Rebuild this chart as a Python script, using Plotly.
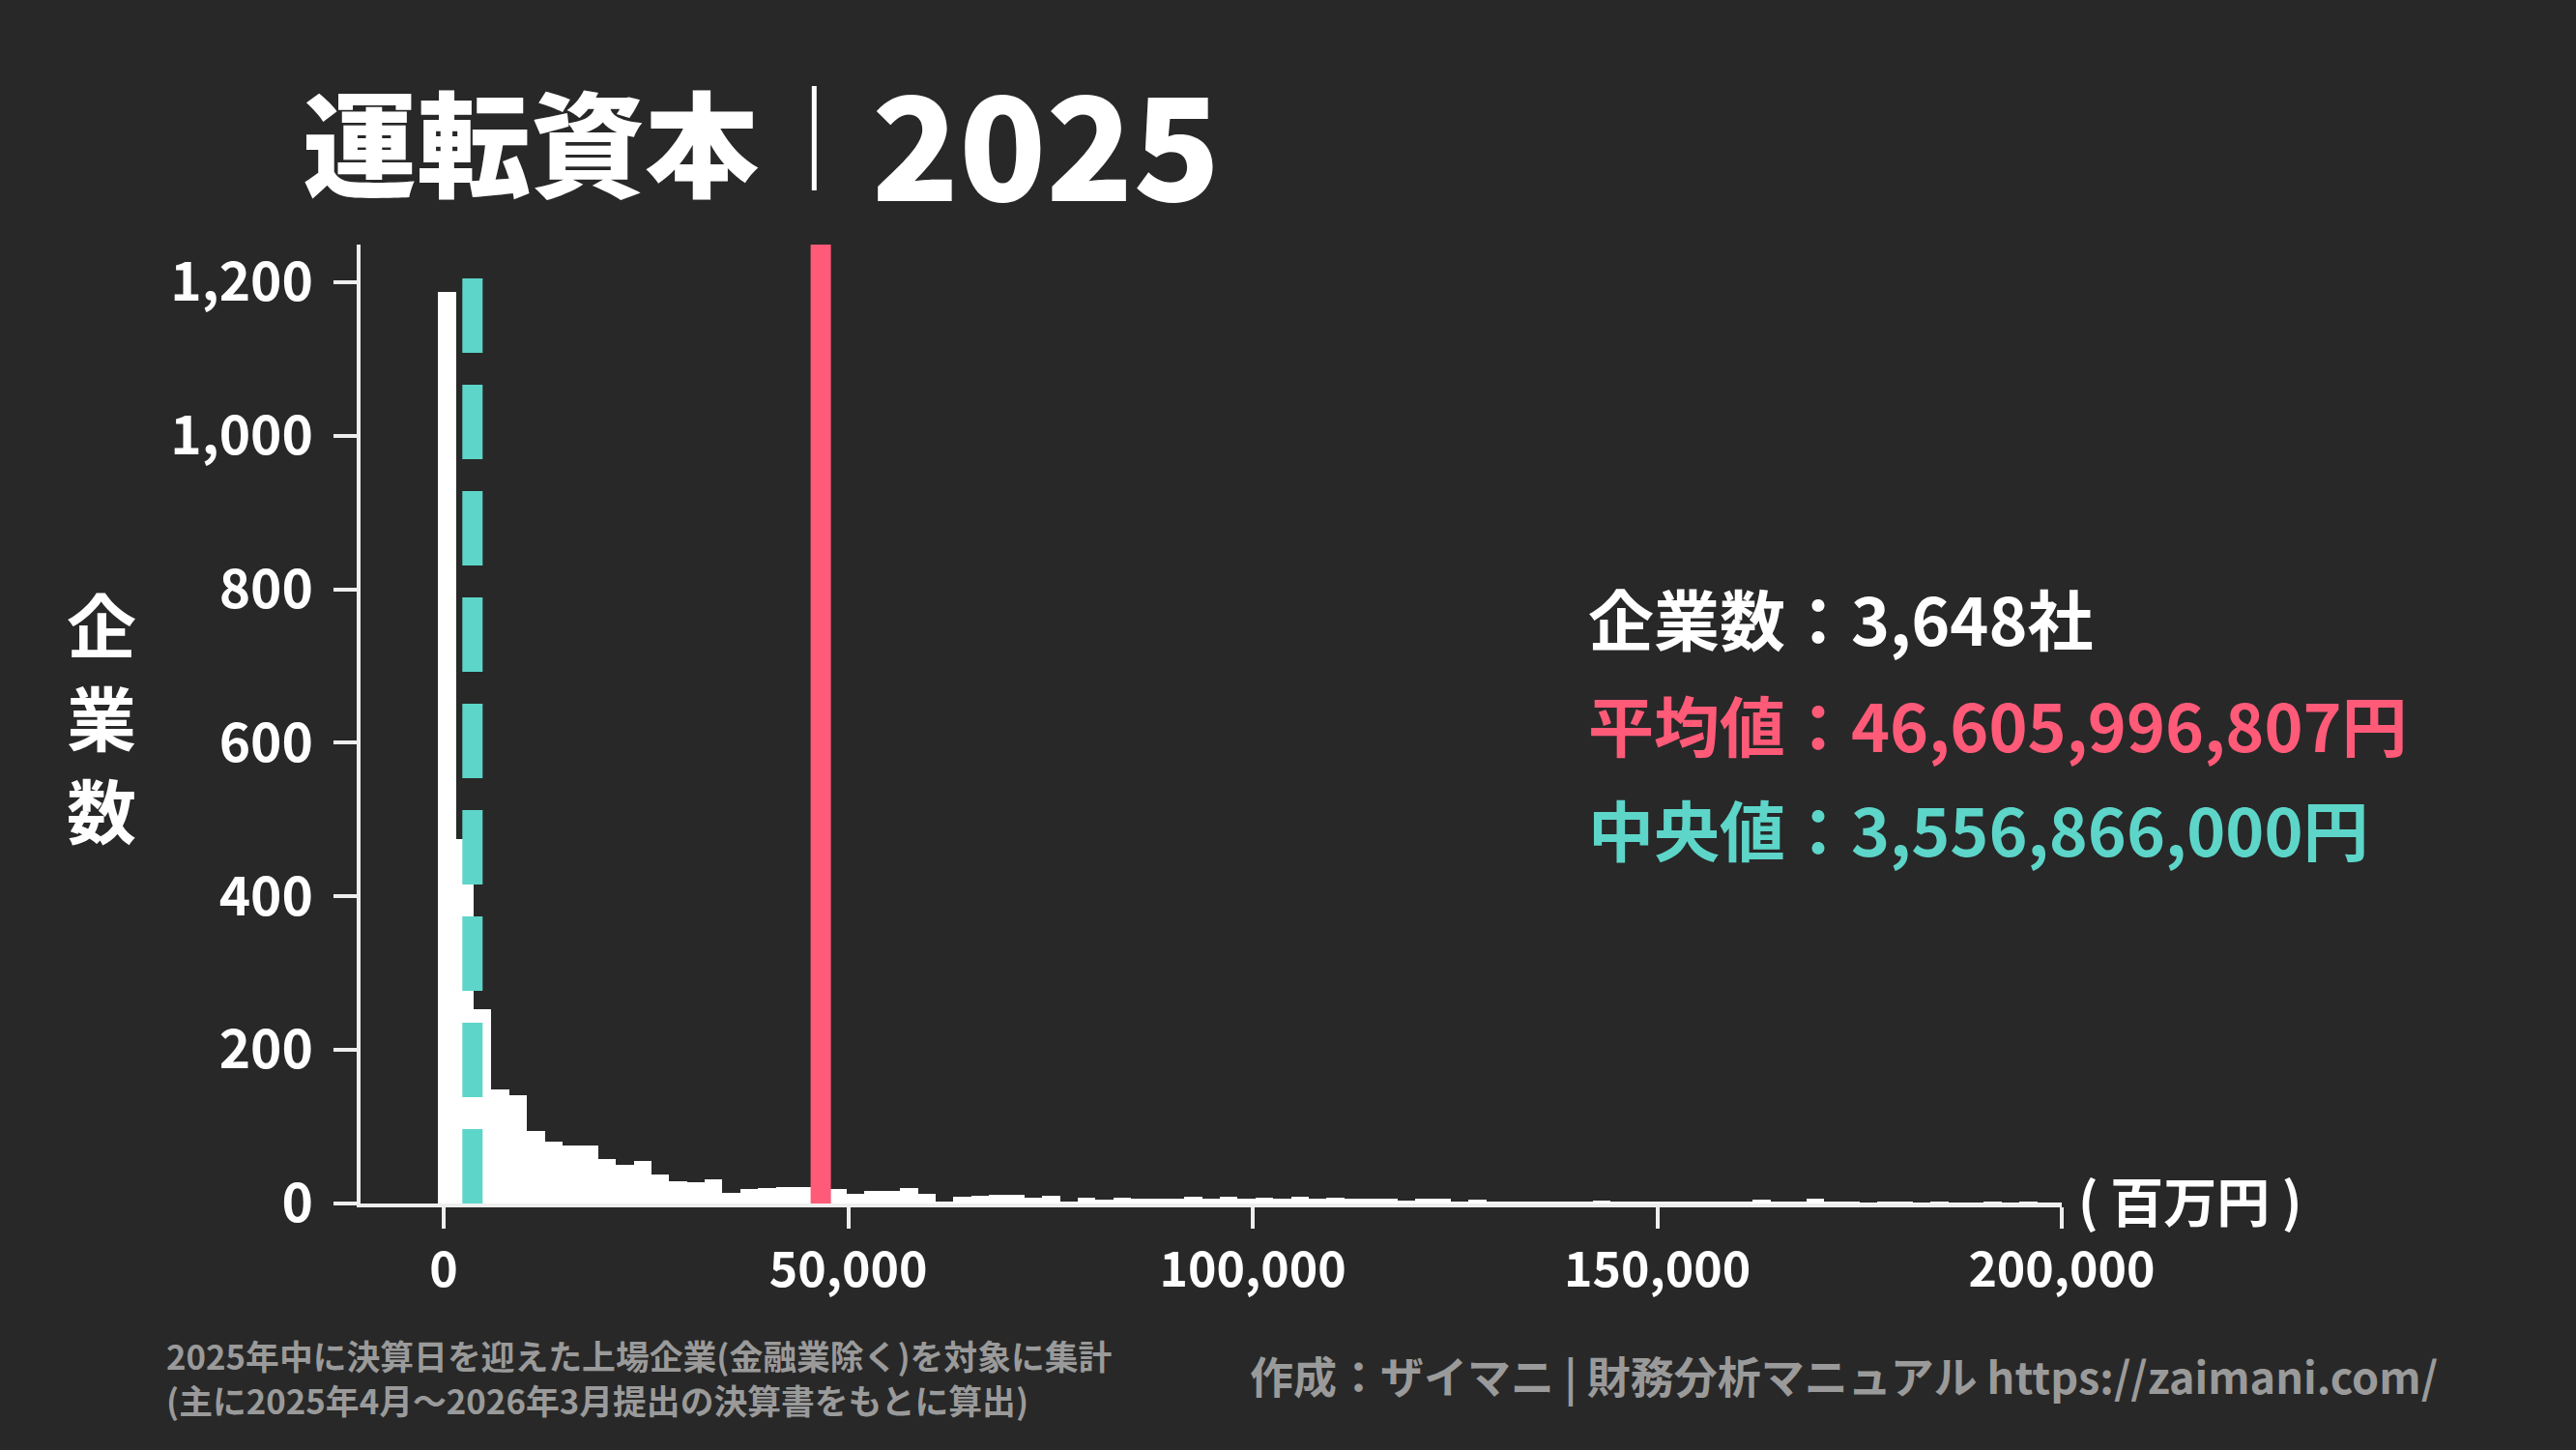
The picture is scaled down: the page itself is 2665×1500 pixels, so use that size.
import plotly.graph_objects as go

# ヒストグラム（単位：百万円）
bin_start = -681
bin_width = 2196
counts = [
    1187, 475, 253, 149, 141, 95, 80, 76, 75, 58,
    50, 55, 38, 29, 28, 32, 14, 19, 20, 21,
    21, 21, 19, 13, 16, 16, 20, 13, 2, 9,
    10, 11, 11, 8, 10, 2, 8, 5, 8, 6,
    6, 6, 9, 6, 9, 6, 7, 6, 9, 6,
    8, 6, 6, 6, 4, 6, 6, 3, 5, 3,
    2, 3, 3, 2, 3, 4, 3, 2, 3, 2,
    3, 2, 2, 3, 5, 3, 2, 6, 2, 2,
    1, 2, 2, 1, 2, 1, 1, 2, 1, 2,
    1, 1,
]
bin_centers = [bin_start + bin_width * (i + 0.5) for i in range(len(counts))]

mean_value = 46605.996807
median_value = 3556.866
n_companies = 3648

x_ticks = [0, 50000, 100000, 150000, 200000]
y_ticks = [0, 200, 400, 600, 800, 1000, 1200]
x_range = [-10279, 200000]
y_range = [0, 1249]

title_text = "運転資本"
title_year = "2025"
stat_lines = [
    ("企業数：3,648社", "#ffffff"),
    ("平均値：46,605,996,807円", "#ff5a78"),
    ("中央値：3,556,866,000円", "#5dd5c9"),
]
y_title_chars = ["企", "業", "数"]
note_lines = [
    "2025年中に決算日を迎えた上場企業(金融業除く)を対象に集計",
    "(主に2025年4月～2026年3月提出の決算書をもとに算出)",
]
credit_text = "作成：ザイマニ | 財務分析マニュアル https://zaimani.com/"

BG = "#282828"
AXIS = "#eeeeee"
RED = "#ff5a78"
TEAL = "#5dd5c9"
GRAY = "#9a9a9a"
FONT = "Noto Sans CJK JP"
FONT_BLACK = "Noto Sans CJK JP Black, Noto Sans CJK JP"

W, H = 2665, 1500
PL, PR, PT, PB = 372.7, 2132.6, 253, 1245


def px(x):
    return (x - PL) / (PR - PL)


def py(y):
    return (PB - y) / (PB - PT)


fig = go.Figure()
fig.add_trace(go.Bar(
    x=bin_centers, y=counts, width=bin_width,
    marker=dict(color="#ffffff", line=dict(width=0)),
    hoverinfo="skip",
))

# 平均値・中央値の縦線
fig.add_shape(type="line", xref="x", yref="y", x0=mean_value, x1=mean_value,
              y0=0, y1=y_range[1], line=dict(color=RED, width=21))
fig.add_shape(type="line", xref="x", yref="y", x0=median_value, x1=median_value,
              y0=0, y1=1205, line=dict(color=TEAL, width=21, dash="77px,33px"))

annotations = [
    dict(text=title_text, x=px(311), y=py(143), xanchor="left", yanchor="middle",
         font=dict(family=FONT_BLACK, size=118, color="#ffffff", weight=900)),
    dict(text=title_year, x=px(900), y=py(143), xanchor="left", yanchor="middle",
         font=dict(family=FONT_BLACK, size=148, color="#ffffff", weight=900)),
    dict(text="( 百万円 )", x=px(2148), y=py(1240), xanchor="left", yanchor="middle",
         font=dict(family=FONT, size=55, color="#ffffff", weight=700)),
    dict(text=credit_text, x=px(2524), y=py(1422), xanchor="right", yanchor="middle",
         font=dict(family=FONT, size=45, color=GRAY, weight=700)),
]
for txt, yc in zip(note_lines, [1402, 1448]):
    annotations.append(dict(text=txt, x=px(170), y=py(yc), xanchor="left", yanchor="middle",
                            font=dict(family=FONT, size=34.8, color=GRAY, weight=700)))
for ch, yc in zip(y_title_chars, [643, 739, 835]):
    annotations.append(dict(text=ch, x=px(105), y=py(yc), xanchor="center", yanchor="middle",
                            font=dict(family=FONT, size=72, color="#ffffff", weight=700)))
for (txt, col), yc in zip(stat_lines, [638, 748, 856]):
    annotations.append(dict(text=txt, x=px(1641), y=py(yc), xanchor="left", yanchor="middle",
                            font=dict(family=FONT, size=68, color=col, weight=700)))
for a in annotations:
    a.update(xref="paper", yref="paper", showarrow=False)

# タイトルの区切り線
fig.add_shape(type="line", xref="paper", yref="paper", x0=px(842), x1=px(842),
              y0=py(89), y1=py(197), line=dict(color="#ffffff", width=5))

fig.update_layout(
    width=W, height=H,
    paper_bgcolor=BG, plot_bgcolor=BG,
    margin=dict(l=PL, r=W - PR, t=PT, b=H - PB, pad=0),
    showlegend=False, bargap=0,
    annotations=annotations,
    font=dict(family=FONT, color="#ffffff"),
)
fig.update_xaxes(
    range=x_range, tickvals=x_ticks, tickformat=",d",
    showgrid=False, zeroline=False,
    showline=True, linecolor=AXIS, linewidth=4,
    ticks="outside", ticklen=22, tickwidth=4, tickcolor=AXIS,
    tickfont=dict(family=FONT, size=50, color="#ffffff", weight=700),
    ticklabelstandoff=0,
)
fig.update_yaxes(
    range=y_range, tickvals=y_ticks, tickformat=",d",
    showgrid=False, zeroline=False,
    showline=True, linecolor=AXIS, linewidth=4,
    ticks="outside", ticklen=24, tickwidth=4, tickcolor=AXIS,
    tickfont=dict(family=FONT, size=55, color="#ffffff", weight=700),
    ticklabelstandoff=10,
)

fig.write_html(
    "out.html",
    config={"displayModeBar": False},
    post_script="document.body.style.margin='0';",
)
